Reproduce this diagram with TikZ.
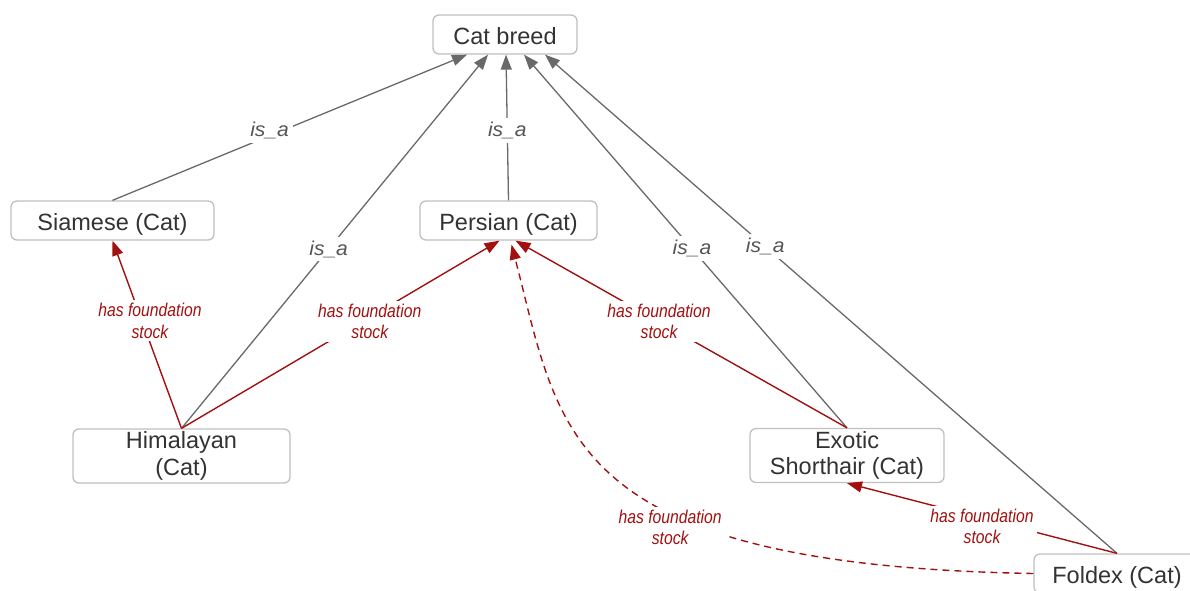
\documentclass[tikz,border=0pt]{standalone}
\usepackage{fontspec}
\setmainfont{Liberation Sans}
\newfontfamily\isafont[FakeStretch=1.05]{Liberation Sans}
\newfontfamily\hfsfont[FakeStretch=0.85]{Liberation Sans}
\usetikzlibrary{arrows.meta}
\definecolor{nodeborder}{RGB}{192,192,192}
\definecolor{nodetext}{RGB}{51,51,51}
\definecolor{isagray}{RGB}{105,105,105}
\definecolor{isatext}{RGB}{85,85,85}
\definecolor{hfsred}{RGB}{163,16,16}
\tikzset{
  concept/.style={draw=nodeborder, line width=1.3pt, rounded corners=6pt, fill=white,
    text=nodetext, inner sep=0pt, align=center,
    font=\fontsize{23.5}{26.5}\selectfont},
  oneline/.style={text height=19pt, text depth=0pt},
  isa/.style={draw=isagray, line width=1.3pt, -{Triangle[length=15pt,width=11pt]}},
  hfs/.style={draw=hfsred, line width=1.4pt, -{Triangle[length=15pt,width=11pt]}},
  isalbl/.style={fill=white, text=isatext, inner sep=4pt,
    font=\fontsize{20}{24}\isafont\itshape},
  hfslbl/.style={fill=white, text=hfsred, inner sep=3pt, align=center,
    font=\fontsize{18.5}{21.5}\hfsfont\itshape},
}
\begin{document}
\begin{tikzpicture}[x=1pt,y=-1pt]
\useasboundingbox (0,0) rectangle (1190,590);
\node[concept, oneline, minimum width=144pt, minimum height=39pt] (cat) at (505,34.5) {Cat breed};
\node[concept, oneline, minimum width=203pt, minimum height=39pt] (sia) at (112.5,220.5) {Siamese (Cat)};
\node[concept, oneline, minimum width=177pt, minimum height=39pt] (per) at (508.5,220.5) {Persian (Cat)};
\node[concept, minimum width=217pt, minimum height=54pt] (him) at (181.5,456) {Himalayan\\(Cat)};
\node[concept, minimum width=194pt, minimum height=54pt] (exo) at (847,455.5) {Exotic\\Shorthair (Cat)};
\node[concept, oneline, minimum width=166pt, minimum height=39pt] (fol) at (1117,573.5) {Foldex (Cat)};

% is_a edges
\draw[isa] (sia.north) -- node[isalbl, pos=0.443, yshift=5pt] {is\_a} ([xshift=-38pt]cat.south);
\draw[isa] (him.north) -- node[isalbl, pos=0.48] {is\_a} ([xshift=-17pt]cat.south);
\draw[isa] (per.north) -- node[isalbl, pos=0.48] {is\_a} ([xshift=1pt]cat.south);
\draw[isa] (exo.north) -- node[isalbl, pos=0.48] {is\_a} ([xshift=19pt]cat.south);
\draw[isa] (fol.north) -- node[isalbl, pos=0.615] {is\_a} ([xshift=40pt]cat.south);

% has foundation stock edges
\draw[hfs] (him.north) -- node[hfslbl, pos=0.573, xshift=8pt] {has foundation\\stock} (sia.south);
\draw[hfs] (him.north) -- node[hfslbl, pos=0.57, xshift=7pt] {has foundation\\stock} ([xshift=-9pt]per.south);
\draw[hfs] (exo.north) -- node[hfslbl, pos=0.57, xshift=1pt] {has foundation\\stock} ([xshift=7pt]per.south);
\draw[hfs] (fol.north) -- node[hfslbl, pos=0.5, yshift=-8pt] {has foundation\\stock} (exo.south);
\draw[hfs, dash pattern=on 7pt off 5pt] (fol.west) .. controls (560,565) and (560,430) ..
  node[hfslbl, pos=0.38, yshift=-14pt] {has foundation\\stock} ([xshift=3pt,yshift=-4pt]per.south);
\end{tikzpicture}
\end{document}
